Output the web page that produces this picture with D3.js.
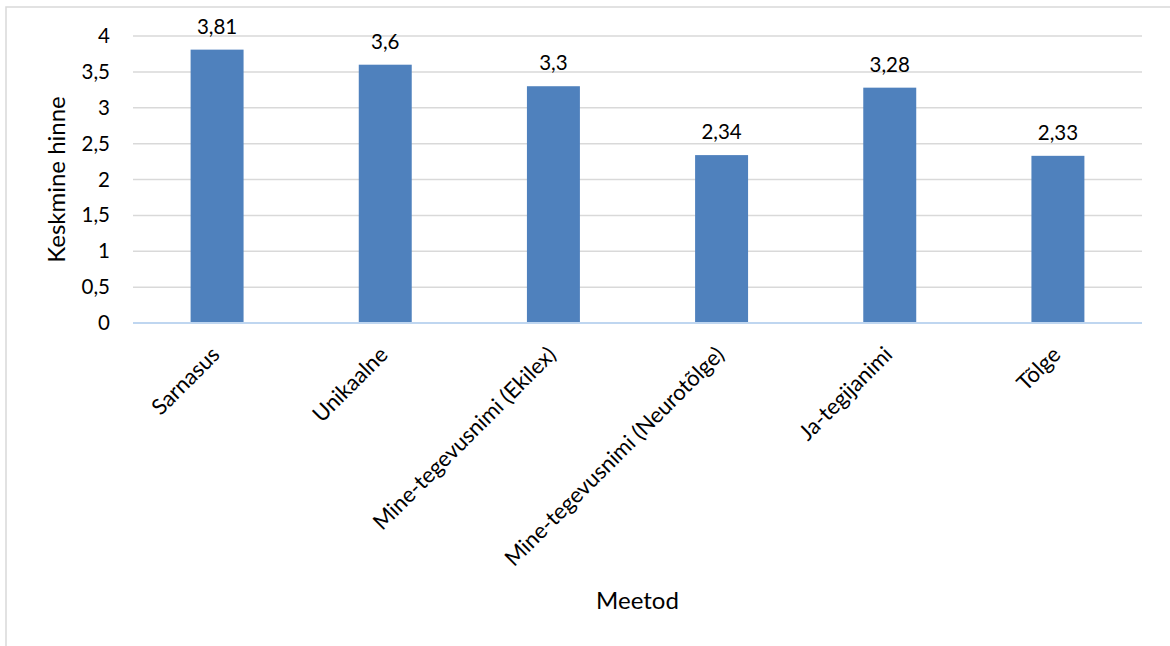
<!DOCTYPE html>
<html>
<head>
<meta charset="utf-8">
<script src="https://cdn.jsdelivr.net/npm/d3@7"></script>
<style>
  html, body { margin: 0; padding: 0; background: #fff; }
  svg { display: block; font-family: Lato, "Open Sans", sans-serif; }
</style>
</head>
<body>
<svg id="chart" width="1170" height="646"></svg>
<script>
// Average score per method
const categories = ["Sarnasus", "Unikaalne", "Mine-tegevusnimi (Ekilex)", "Mine-tegevusnimi (Neurotõlge)", "Ja-tegijanimi", "Tõlge"];
const values = [3.81, 3.6, 3.3, 2.34, 3.28, 2.33];
const yTicks = [0, 0.5, 1, 1.5, 2, 2.5, 3, 3.5, 4];
const yTitle = "Keskmine hinne";
const xTitle = "Meetod";

const svg = d3.select("#chart");
const plot = { left: 133, right: 1142, top: 36, bottom: 323 };

// chart frame
svg.append("rect")
  .attr("x", 6).attr("y", 7)
  .attr("width", 1180).attr("height", 660)
  .attr("fill", "none").attr("stroke", "#d9d9d9").attr("stroke-width", 1.5);

const x = d3.scaleBand().domain(categories).range([plot.left, plot.right]).paddingInner(0.685).paddingOuter(0.3425);
const y = d3.scaleLinear().domain([0, 4]).range([plot.bottom, plot.top]);
const fmt = v => String(v).replace(".", ",");

// gridlines
svg.append("g").selectAll("line").data(yTicks.filter(t => t > 0)).join("line")
  .attr("x1", plot.left).attr("x2", plot.right)
  .attr("y1", d => y(d)).attr("y2", d => y(d))
  .attr("stroke", "#d9d9d9").attr("stroke-width", 1.5);

// y axis labels
const yAxis = d3.axisLeft(y).tickValues(yTicks).tickFormat(fmt).tickSize(0).tickPadding(0);
svg.append("g").attr("transform", `translate(110,0)`).call(yAxis)
  .call(g => g.select(".domain").remove())
  .call(g => g.selectAll("text").attr("font-size", 20.5).attr("fill", "#000").attr("font-family", "Lato, sans-serif"));

// bars
svg.append("g").selectAll("rect").data(values).join("rect")
  .attr("x", (d, i) => x(categories[i]))
  .attr("y", d => y(d))
  .attr("width", x.bandwidth())
  .attr("height", d => y(0) - y(d))
  .attr("fill", "#4f81bd");

// value labels
svg.append("g").selectAll("text").data(values).join("text")
  .attr("x", (d, i) => x(categories[i]) + x.bandwidth() / 2)
  .attr("y", d => y(d) - 16)
  .attr("text-anchor", "middle")
  .attr("font-size", 20.5)
  .attr("fill", "#000")
  .text(fmt);

// baseline
svg.append("line")
  .attr("x1", plot.left).attr("x2", plot.right)
  .attr("y1", y(0)).attr("y2", y(0))
  .attr("stroke", "#bfd6f0").attr("stroke-width", 2);

// category labels, rotated
const xAxis = d3.axisBottom(x).tickSize(0).tickPadding(0);
svg.append("g").attr("transform", `translate(0,${plot.bottom})`).call(xAxis)
  .call(g => g.select(".domain").remove())
  .call(g => g.selectAll("text")
    .attr("font-size", 22).attr("fill", "#000").attr("font-family", "Lato, sans-serif")
    .attr("text-anchor", "end").attr("dy", null).attr("y", 0)
    .attr("transform", "translate(4,33) rotate(-45)"));

// axis titles
svg.append("text")
  .attr("transform", `translate(65,${(plot.top + plot.bottom) / 2}) rotate(-90)`)
  .attr("text-anchor", "middle").attr("font-size", 24).attr("fill", "#000")
  .text(yTitle);

svg.append("text")
  .attr("x", (plot.left + plot.right) / 2).attr("y", 609)
  .attr("text-anchor", "middle").attr("font-size", 24).attr("fill", "#000")
  .text(xTitle);
</script>
</body>
</html>
